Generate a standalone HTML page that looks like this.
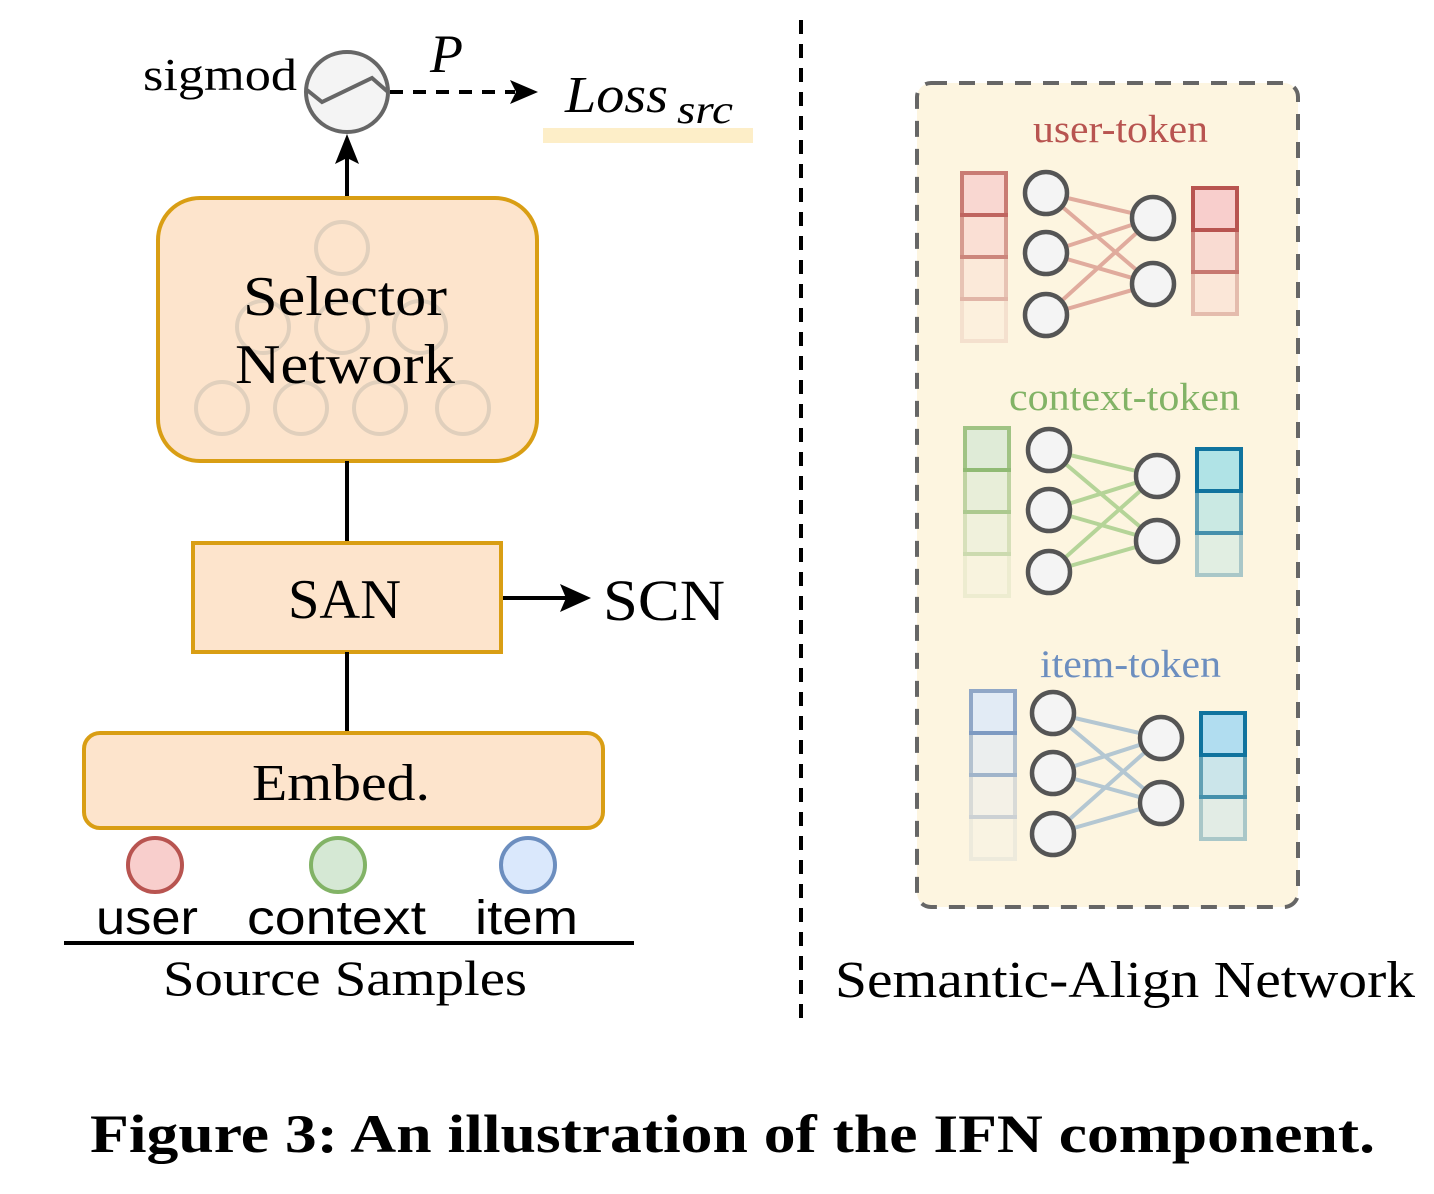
<!DOCTYPE html>
<html><head><meta charset="utf-8"><style>
html,body{margin:0;padding:0;background:#fff;}
svg{display:block;}
.serif{font-family:"Liberation Serif",serif;}
.sans{font-family:"Liberation Sans",sans-serif;}
</style></head><body>
<svg width="1434" height="1194" viewBox="0 0 1434 1194" xmlns="http://www.w3.org/2000/svg">
<!-- top left -->
<text x="143" y="90" class="serif" font-size="46" textLength="154" lengthAdjust="spacingAndGlyphs">sigmod</text>
<ellipse cx="347" cy="92" rx="41" ry="40" fill="#f4f4f4" stroke="#666" stroke-width="4"/>
<polyline points="307,90 322,102 372,78 388,92" fill="none" stroke="#666" stroke-width="4"/>
<line x1="390" y1="92" x2="515" y2="92" stroke="#000" stroke-width="4" stroke-dasharray="13,10"/>
<path d="M510,80 L538,92 L510,104 L516,92 z" fill="#000"/>
<text x="430" y="72" class="serif" font-style="italic" font-size="54">P</text>
<rect x="543" y="128" width="210" height="15" fill="#fdeec8"/>
<text x="565" y="112" class="serif" font-style="italic" font-size="52" textLength="103" lengthAdjust="spacingAndGlyphs">Loss</text>
<text x="677" y="123" class="serif" font-style="italic" font-size="40" textLength="56" lengthAdjust="spacingAndGlyphs">src</text>
<line x1="347" y1="196" x2="347" y2="150" stroke="#000" stroke-width="4"/>
<path d="M335,164 L347,134 L359,164 L347,158 z" fill="#000"/>
<!-- selector -->
<rect x="158" y="198" width="379" height="263" rx="42" fill="#fde4cc" stroke="#d99e14" stroke-width="4"/>
<g fill="none" stroke="#d9cbb9" stroke-width="4" opacity="0.8">
<circle cx="342" cy="248" r="26"/>
<circle cx="263" cy="327" r="26"/><circle cx="342" cy="327" r="26"/><circle cx="420" cy="327" r="26"/>
<circle cx="222" cy="408" r="26"/><circle cx="301" cy="408" r="26"/><circle cx="380" cy="408" r="26"/><circle cx="463" cy="408" r="26"/>
</g>
<text x="243" y="315" class="serif" font-size="56" textLength="204" lengthAdjust="spacingAndGlyphs">Selector</text>
<text x="235" y="383" class="serif" font-size="56" textLength="220" lengthAdjust="spacingAndGlyphs">Network</text>
<line x1="347" y1="461" x2="347" y2="543" stroke="#000" stroke-width="4"/>
<rect x="193" y="543" width="308" height="109" fill="#fde4cc" stroke="#d99e14" stroke-width="4"/>
<text x="288" y="618" class="serif" font-size="56" textLength="113" lengthAdjust="spacingAndGlyphs">SAN</text>
<line x1="503" y1="598" x2="570" y2="598" stroke="#000" stroke-width="4"/>
<path d="M560,584 L591,598 L560,612 L566,598 z" fill="#000"/>
<text x="603" y="620" class="serif" font-size="58" textLength="122" lengthAdjust="spacingAndGlyphs">SCN</text>
<line x1="347" y1="652" x2="347" y2="733" stroke="#000" stroke-width="4"/>
<rect x="84" y="733" width="519" height="95" rx="16" fill="#fde4cc" stroke="#d99e14" stroke-width="4"/>
<text x="252" y="800" class="serif" font-size="52" textLength="178" lengthAdjust="spacingAndGlyphs">Embed.</text>
<circle cx="155" cy="865" r="27" fill="#f8cecc" stroke="#b85450" stroke-width="4"/>
<circle cx="338" cy="865" r="27" fill="#d5e8d4" stroke="#82b366" stroke-width="4"/>
<circle cx="528" cy="865" r="27" fill="#dae8fc" stroke="#6c8ebf" stroke-width="4"/>
<text x="96" y="934" class="sans" font-size="48" textLength="102" lengthAdjust="spacingAndGlyphs">user</text>
<text x="247" y="934" class="sans" font-size="48" textLength="179" lengthAdjust="spacingAndGlyphs">context</text>
<text x="475" y="934" class="sans" font-size="48" textLength="103" lengthAdjust="spacingAndGlyphs">item</text>
<line x1="64" y1="943" x2="634" y2="943" stroke="#000" stroke-width="4"/>
<text x="163" y="995" class="serif" font-size="50" textLength="364" lengthAdjust="spacingAndGlyphs">Source Samples</text>
<!-- divider -->
<line x1="801" y1="20" x2="801" y2="1020" stroke="#000" stroke-width="4" stroke-dasharray="14,10"/>
<!-- right panel -->
<rect x="917" y="83" width="381" height="824" rx="14" fill="#fdf5e0" stroke="#666" stroke-width="4" stroke-dasharray="16,12"/>
<text x="1033" y="142" class="serif" font-size="39" fill="#b85450" textLength="175" lengthAdjust="spacingAndGlyphs">user-token</text>
<text x="1009" y="410" class="serif" font-size="39" fill="#82b366" textLength="231" lengthAdjust="spacingAndGlyphs">context-token</text>
<text x="1040" y="677" class="serif" font-size="39" fill="#6c8ebf" textLength="181" lengthAdjust="spacingAndGlyphs">item-token</text>

<!-- user network -->
<g transform="translate(962,173)">
<g stroke="#b85450" stroke-width="4" fill="#f8cecc">
<rect x="0" y="0" width="44" height="42" opacity="0.75"/>
<rect x="0" y="42" width="44" height="42" opacity="0.55"/>
<rect x="0" y="84" width="44" height="42" opacity="0.3"/>
<rect x="0" y="126" width="44" height="42" opacity="0.12"/>
</g>
<g stroke="#d9998d" stroke-width="4" opacity="0.8">
<line x1="84" y1="20" x2="191" y2="45"/><line x1="84" y1="20" x2="191" y2="111"/>
<line x1="84" y1="80" x2="191" y2="45"/><line x1="84" y1="80" x2="191" y2="111"/>
<line x1="84" y1="142" x2="191" y2="45"/><line x1="84" y1="142" x2="191" y2="111"/>
</g>
<g fill="#f4f4f4" stroke="#555" stroke-width="4.5">
<circle cx="84" cy="20" r="21"/><circle cx="84" cy="80" r="21"/><circle cx="84" cy="142" r="21"/>
<circle cx="191" cy="45" r="21"/><circle cx="191" cy="111" r="21"/>
</g>
<g stroke="#b85450" stroke-width="4" fill="#f8cecc">
<rect x="231" y="99" width="44" height="42" opacity="0.35"/>
<rect x="231" y="57" width="44" height="42" opacity="0.65"/>
<rect x="231" y="15" width="44" height="42" opacity="1"/>
</g>
</g>

<!-- context network -->
<g transform="translate(965,428)">
<g stroke="#82b366" stroke-width="4" fill="#d5e8d4">
<rect x="0" y="0" width="44" height="42" opacity="0.75"/>
<rect x="0" y="42" width="44" height="42" opacity="0.5"/>
<rect x="0" y="84" width="44" height="42" opacity="0.3"/>
<rect x="0" y="126" width="44" height="42" opacity="0.12"/>
</g>
<g stroke="#a9cf8c" stroke-width="4" opacity="0.85">
<line x1="84" y1="22" x2="192" y2="48"/><line x1="84" y1="22" x2="192" y2="113"/>
<line x1="84" y1="82" x2="192" y2="48"/><line x1="84" y1="82" x2="192" y2="113"/>
<line x1="84" y1="144" x2="192" y2="48"/><line x1="84" y1="144" x2="192" y2="113"/>
</g>
<g fill="#f4f4f4" stroke="#555" stroke-width="4.5">
<circle cx="84" cy="22" r="21"/><circle cx="84" cy="82" r="21"/><circle cx="84" cy="144" r="21"/>
<circle cx="192" cy="48" r="21"/><circle cx="192" cy="113" r="21"/>
</g>
<g stroke="#10739e" stroke-width="4" fill="#b0e3e6">
<rect x="232" y="105" width="44" height="42" opacity="0.35"/>
<rect x="232" y="63" width="44" height="42" opacity="0.65"/>
<rect x="232" y="21" width="44" height="42" opacity="1"/>
</g>
</g>

<!-- item network -->
<g transform="translate(971,691)">
<g stroke="#6c8ebf" stroke-width="4" fill="#dae8fc">
<rect x="0" y="0" width="44" height="42" opacity="0.75"/>
<rect x="0" y="42" width="44" height="42" opacity="0.5"/>
<rect x="0" y="84" width="44" height="42" opacity="0.25"/>
<rect x="0" y="126" width="44" height="42" opacity="0.1"/>
</g>
<g stroke="#a8bfd0" stroke-width="4" opacity="0.85">
<line x1="82" y1="22" x2="190" y2="47"/><line x1="82" y1="22" x2="190" y2="112"/>
<line x1="82" y1="82" x2="190" y2="47"/><line x1="82" y1="82" x2="190" y2="112"/>
<line x1="82" y1="143" x2="190" y2="47"/><line x1="82" y1="143" x2="190" y2="112"/>
</g>
<g fill="#f4f4f4" stroke="#555" stroke-width="4.5">
<circle cx="82" cy="22" r="21"/><circle cx="82" cy="82" r="21"/><circle cx="82" cy="143" r="21"/>
<circle cx="190" cy="47" r="21"/><circle cx="190" cy="112" r="21"/>
</g>
<g stroke="#10739e" stroke-width="4" fill="#b1ddf0">
<rect x="230" y="106" width="44" height="42" opacity="0.35"/>
<rect x="230" y="64" width="44" height="42" opacity="0.65"/>
<rect x="230" y="22" width="44" height="42" opacity="1"/>
</g>
</g>

<text x="835" y="997" class="serif" font-size="52" textLength="580" lengthAdjust="spacingAndGlyphs">Semantic-Align Network</text>
<text x="90" y="1152" class="serif" font-weight="bold" font-size="54" textLength="1285" lengthAdjust="spacingAndGlyphs">Figure 3: An illustration of the IFN component.</text>
</svg>
</body></html>
